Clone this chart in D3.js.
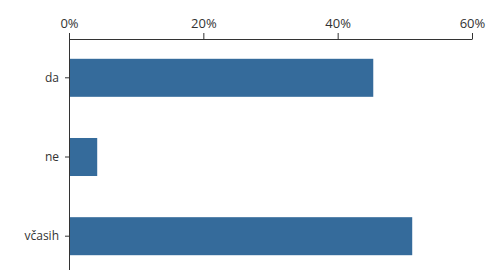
<!DOCTYPE html>
<html>
<head>
<meta charset="utf-8">
<script src="https://cdn.jsdelivr.net/npm/d3@7"></script>
<style>
  body { margin: 0; background: #fff; }
  text { font-family: "Open Sans", "DejaVu Sans", sans-serif; fill: #333; }
</style>
</head>
<body>
<div id="chart"></div>
<script>
var categories = ["da", "ne", "včasih"];
var values = [0.453, 0.042, 0.511];
var tickValues = [0, 0.2, 0.4, 0.6];

var svgWidth = 487;
var svgHeight = 270;
var margin = {top: 39, right: 15, bottom: -5, left: 69};
var width = svgWidth - margin.left - margin.right;
var height = svgHeight - margin.top - margin.bottom;

var svg = d3.select("#chart").append("svg")
    .attr("width", svgWidth)
    .attr("height", svgHeight);

var g = svg.append("g")
    .attr("transform", `translate(${margin.left}, ${margin.top})`);

var xScale = d3.scaleLinear().domain([0, 0.6]).range([0, 403]);
var yScale = d3.scaleBand().domain(categories).range([0, height])
    .paddingInner(0.52)
    .paddingOuter(0.25);

g.selectAll("rect")
    .data(values)
    .enter()
    .append("rect")
    .attr("x", 0)
    .attr("y", function(d, i) { return yScale(categories[i]); })
    .attr("width", function(d) { return xScale(d); })
    .attr("height", yScale.bandwidth())
    .attr("fill", "#356b9b");

var topAxis = d3.axisTop(xScale)
    .tickValues(tickValues)
    .tickFormat(d3.format(".0%"))
    .tickSize(6)
    .tickSizeOuter(0)
    .tickPadding(5);

var xAxis = g.append("g").call(topAxis);
xAxis.select(".domain").attr("stroke", "#333");
xAxis.selectAll("line").attr("stroke", "#333");
xAxis.selectAll("text").style("font-size", "13px").attr("fill", "#333");

var leftAxis = d3.axisLeft(yScale).tickSize(4).tickSizeOuter(0).tickPadding(6);
var yAxis = g.append("g").call(leftAxis);
yAxis.select(".domain").attr("stroke", "#333").attr("d", "M0.5,0V" + (height + 10));
yAxis.selectAll("line").attr("stroke", "#333");
yAxis.selectAll("text").style("font-size", "12px").attr("fill", "#333");
</script>
</body>
</html>
